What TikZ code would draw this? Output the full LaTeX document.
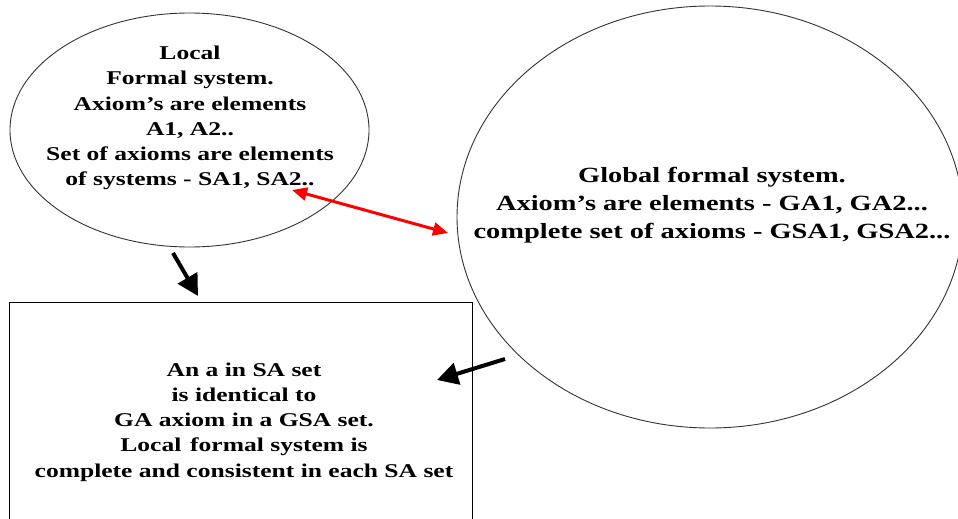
\documentclass[tikz,border=0pt]{standalone}
\usepackage{fontspec}
\setmainfont[FakeStretch=1.31]{Liberation Serif}
\usetikzlibrary{shapes.geometric,arrows.meta}
\begin{document}
\begin{tikzpicture}[x=1pt,y=-1pt,
  shapeline/.style={draw=black!80, line width=0.9pt, inner sep=0pt},
  txt/.style={align=center, inner sep=0pt},
  bigarrow/.style={draw=black, line width=4pt, -{Triangle[length=21pt,width=22pt]}},
  redarrow/.style={draw=red, line width=3pt, {Triangle[length=15pt,width=13pt]}-{Triangle[length=15pt,width=13pt]}}]
\useasboundingbox (0,0) rectangle (958,519);
\clip (0,0) rectangle (958,519);
\fill[white] (0,0) rectangle (958,519);
% shapes
\node[ellipse, shapeline, minimum width=359pt, minimum height=234pt] (local) at (189.5,130) {};
\node[ellipse, shapeline, minimum width=506pt, minimum height=422pt] (global) at (710,217) {};
\node[draw=black, line width=1.4pt, minimum width=463pt, minimum height=240pt, anchor=north west, inner sep=0pt] (box) at (9,302) {};
% texts
\node[txt, font=\fontsize{19.5}{25.3}\selectfont\bfseries] (localtext) at (190,118)
  {Local\\Formal system.\\Axiom’s are elements\\A1, A2..\\Set of axioms are elements\\of systems - SA1, SA2..};
\node[txt, font=\fontsize{21.7}{28}\selectfont\bfseries] (globaltext) at (712,205)
  {Global formal system.\\Axiom’s are elements - GA1, GA2...\\complete set of axioms - GSA1, GSA2...};
\node[txt, font=\fontsize{19.5}{25.3}\selectfont\bfseries] (boxtext) at (244,422)
  {An a in SA set\\is identical to\\GA axiom in a GSA set.\\Local\hspace{0.45em}formal system is\\complete and consistent in each SA set};
% connector ends
\coordinate (d1) at (173,253);
\coordinate (d2) at (198,296);
\coordinate (l1) at (505,359);
\coordinate (l2) at (437,380);
\coordinate (r1) at (292,190);
\coordinate (r2) at (448,233);
% connectors
\draw[bigarrow] (d1) -- (d2);
\draw[bigarrow] (l1) -- (l2);
\draw[redarrow] (r1) -- (r2);
\end{tikzpicture}
\end{document}
